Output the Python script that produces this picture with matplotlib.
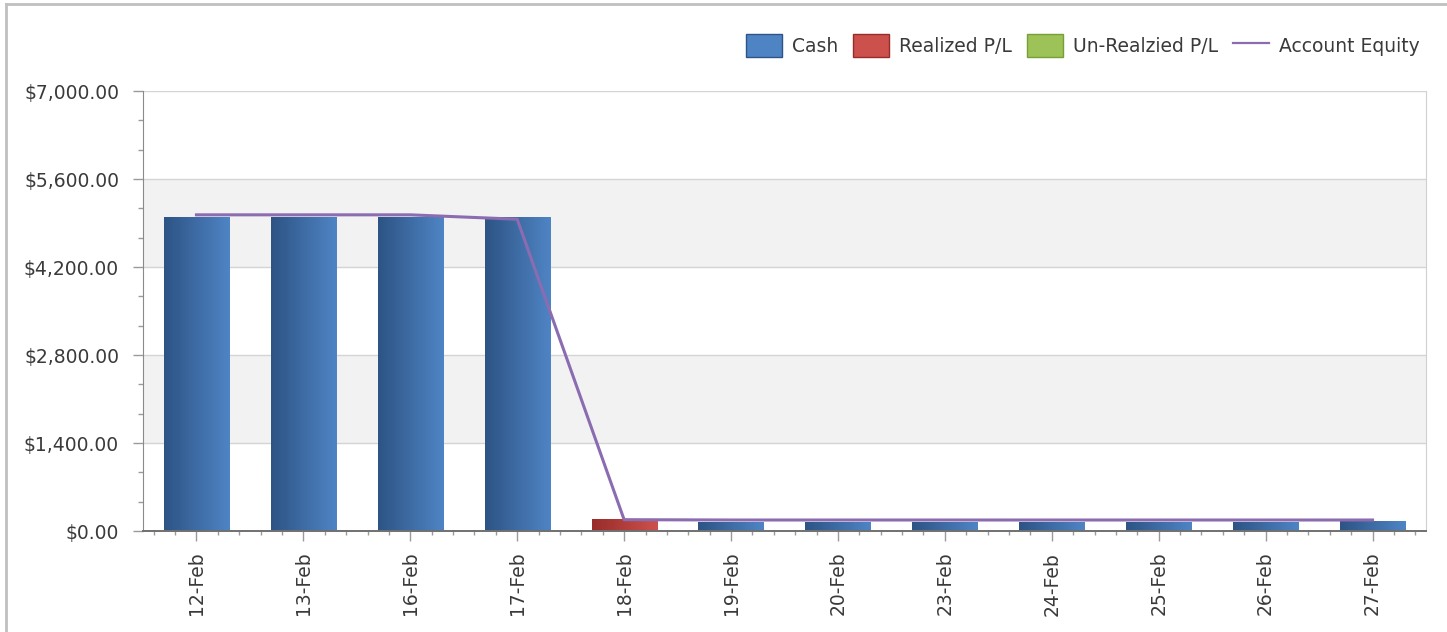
import numpy as np
import matplotlib
matplotlib.use('Agg')
import matplotlib.pyplot as plt
from matplotlib.patches import Patch
from matplotlib.lines import Line2D
from matplotlib.ticker import MultipleLocator, FuncFormatter

# 数据
dates = ['12-Feb', '13-Feb', '16-Feb', '17-Feb', '18-Feb', '19-Feb',
         '20-Feb', '23-Feb', '24-Feb', '25-Feb', '26-Feb', '27-Feb']
cash = [5000, 5000, 5000, 5000, 0, 140, 140, 140, 140, 140, 140, 160]
realized = [0, 0, 0, 0, 190, 0, 0, 0, 0, 0, 0, 0]
unrealized = [0, 0, 0, 0, 0, 0, 0, 0, 0, 0, 0, 0]
equity = [5030, 5030, 5030, 4960, 180, 175, 175, 175, 175, 175, 175, 175]

# 渐变色 (左深右浅)
blue = ('#2d5485', '#4f84c4')
red = ('#982c2a', '#cc514c')
green = ('#76a035', '#9cc258')
line_color = '#8b6cb0'
text_color = '#3a3a3a'

plt.rcParams['font.family'] = ['DejaVu Sans']
plt.rcParams['font.size'] = 13.5

fig = plt.figure(figsize=(14.47, 6.32), dpi=100)
ax = fig.add_axes([143 / 1447, 1 - 531 / 632, (1426 - 143) / 1447, (531 - 91) / 632])

x = np.arange(len(dates))
width = 0.61

# 背景条纹
for lo in (1400, 4200):
    ax.axhspan(lo, lo + 1400, color='#f2f2f2', zorder=0, lw=0)
ax.yaxis.grid(True, color='#d4d4d4', lw=1, zorder=0.5)
ax.set_axisbelow(True)


def gradient_bars(vals, bottom, colors):
    bars = ax.bar(x, vals, width, bottom=bottom, color=colors[1], lw=0, zorder=2)
    grad = np.linspace(0, 1, 64).reshape(1, -1)
    cmap = matplotlib.colors.LinearSegmentedColormap.from_list('g', colors)
    for b in bars:
        if b.get_height() <= 0:
            continue
        x0, y0 = b.get_x(), b.get_y()
        im = ax.imshow(grad, cmap=cmap, aspect='auto', zorder=2.1,
                       extent=(x0, x0 + b.get_width(), y0, y0 + b.get_height()))
        im.set_clip_path(b)
    return bars


gradient_bars(cash, 0, blue)
gradient_bars(realized, cash, red)
gradient_bars(unrealized, np.add(cash, realized), green)

ax.plot(x, equity, color=line_color, lw=2.2, zorder=3, solid_joinstyle='round')

ax.set_xlim(-0.5, len(dates) - 0.5)
ax.set_ylim(0, 7000)

ax.yaxis.set_major_locator(MultipleLocator(1400))
ax.yaxis.set_minor_locator(MultipleLocator(1400 / 3))
ax.yaxis.set_major_formatter(FuncFormatter(lambda v, p: '${:,.2f}'.format(v)))
ax.set_xticks(x)
ax.set_xticklabels(dates, rotation=90)
ax.xaxis.set_minor_locator(MultipleLocator(0.2))

ax.tick_params(axis='y', which='major', length=7.2, width=1, color='#9a9a9a',
               pad=10, labelcolor=text_color)
ax.tick_params(axis='y', which='minor', length=3.6, width=1, color='#9a9a9a')
ax.tick_params(axis='x', which='major', length=7, width=1, color='#9a9a9a',
               pad=8, labelcolor=text_color)
ax.tick_params(axis='x', which='minor', length=3, width=1, color='#9a9a9a')

ax.spines['top'].set_visible(False)
ax.spines['right'].set_color('#d0d0d0')
ax.spines['left'].set_color('#8a8a8a')
ax.spines['bottom'].set_color('#707070')
ax.spines['bottom'].set_linewidth(1.4)

# 图例
handles = [Patch(facecolor=blue[1], edgecolor=blue[0], label='Cash'),
           Patch(facecolor=red[1], edgecolor=red[0], label='Realized P/L'),
           Patch(facecolor=green[1], edgecolor=green[0], label='Un-Realzied P/L'),
           Line2D([], [], color=line_color, lw=1.6, label='Account Equity')]
leg = fig.legend(handles=handles, loc='upper right', ncol=4, frameon=False,
                 bbox_to_anchor=(1420 / 1447, 1 - 34 / 632),
                 handlelength=1.9, handleheight=1.5, handletextpad=0.55,
                 columnspacing=0.8, borderaxespad=0, borderpad=0)
for t in leg.get_texts():
    t.set_color(text_color)

# 外框
fig.add_artist(Line2D([6 / 1447, 6 / 1447], [0, 1 - 4 / 632], color='#c0c0c0', lw=2,
                      transform=fig.transFigure))
fig.add_artist(Line2D([6 / 1447, 1], [1 - 4 / 632, 1 - 4 / 632], color='#c0c0c0', lw=2,
                      transform=fig.transFigure))

fig.savefig('out.png', dpi=100)
